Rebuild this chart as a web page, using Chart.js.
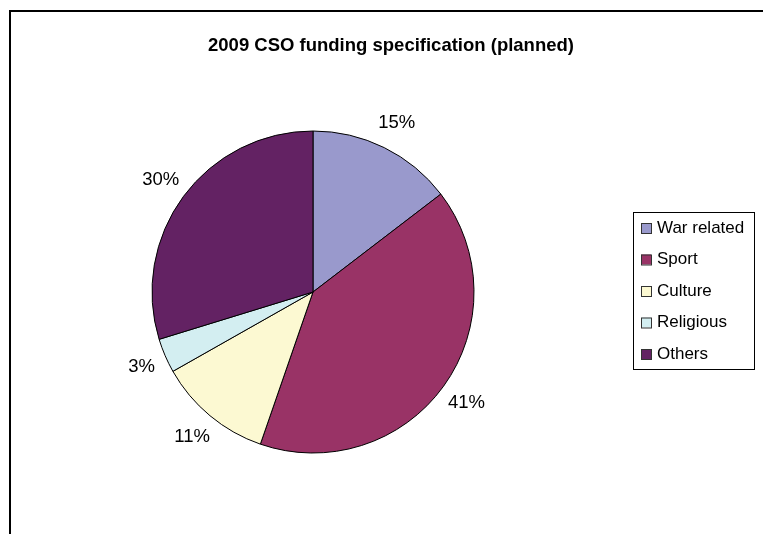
<!DOCTYPE html>
<html>
<head>
<meta charset="utf-8">
<title>2009 CSO funding specification (planned)</title>
<script src="https://cdn.jsdelivr.net/npm/chart.js@4.4.0/dist/chart.umd.min.js"></script>
<style>
  html, body { margin: 0; padding: 0; background: #fff; }
  canvas { display: block; }
</style>
</head>
<body>
<canvas id="pieChart" width="763" height="534"></canvas>
<script>
// --- Data ---
const chartTitle = "2009 CSO funding specification (planned)";
const categories = ["War related", "Sport", "Culture", "Religious", "Others"];
const shares = [14.6, 40.7, 11.5, 3.45, 29.75];
const sliceColors = ["#9999cc", "#993366", "#fcf9d2", "#d3eef1", "#632263"];

const FONT = "'Liberation Sans', Arial, sans-serif";

// --- Frame, title, outside labels and boxed legend ---
const decorations = {
  id: "decorations",
  beforeDraw(chart) {
    const ctx = chart.ctx;
    ctx.save();
    ctx.strokeStyle = "#000";
    ctx.lineWidth = 2;
    ctx.strokeRect(10, 11, chart.width + 20, chart.height + 20);
    ctx.restore();
  },
  afterDraw(chart) {
    const ctx = chart.ctx;
    ctx.save();

    // title
    ctx.fillStyle = "#000";
    ctx.font = "bold 18.5px " + FONT;
    ctx.textAlign = "center";
    ctx.textBaseline = "middle";
    ctx.fillText(chartTitle, 391, 46);

    // percentage labels outside each slice
    const total = shares.reduce((a, b) => a + b, 0);
    const arcs = chart.getDatasetMeta(0).data;
    ctx.font = "18.5px " + FONT;
    arcs.forEach((arc, i) => {
      const p = arc.getProps(["x", "y", "startAngle", "endAngle", "outerRadius"], true);
      const mid = (p.startAngle + p.endAngle) / 2;
      const text = Math.round(shares[i] / total * 100) + "%";
      const w = ctx.measureText(text).width;
      const cx = Math.cos(mid), cy = Math.sin(mid);
      const r = p.outerRadius + 19;
      // blend between box-corner and plain radial placement
      const x = p.x + (r + w / 4) * cx;
      const y = p.y + (r + 9) * cy;
      ctx.fillText(text, x, y);
    });

    // legend
    const lx = 633, ly = 212, lw = 121, lh = 157;
    ctx.strokeStyle = "#000";
    ctx.lineWidth = 1;
    ctx.strokeRect(lx + 0.5, ly + 0.5, lw, lh);
    ctx.font = "17px " + FONT;
    ctx.textAlign = "left";
    categories.forEach((name, i) => {
      const yc = 228 + i * 31.5;
      ctx.fillStyle = sliceColors[i];
      ctx.fillRect(641, yc - 5, 10, 10);
      ctx.strokeStyle = "#333";
      ctx.strokeRect(641.5, yc - 4.5, 10, 10);
      ctx.fillStyle = "#000";
      ctx.fillText(name, 657, yc);
    });

    ctx.restore();
  }
};

new Chart(document.getElementById("pieChart"), {
  type: "pie",
  data: {
    labels: categories,
    datasets: [{
      data: shares,
      backgroundColor: sliceColors,
      borderColor: "#000",
      borderWidth: 1,
    }]
  },
  options: {
    responsive: false,
    animation: false,
    radius: 161,
    layout: { padding: { left: 152, top: 131, right: 289, bottom: 81 } },
    plugins: {
      legend: { display: false },
      title: { display: false },
      tooltip: { enabled: false }
    }
  },
  plugins: [decorations]
});
</script>
</body>
</html>
